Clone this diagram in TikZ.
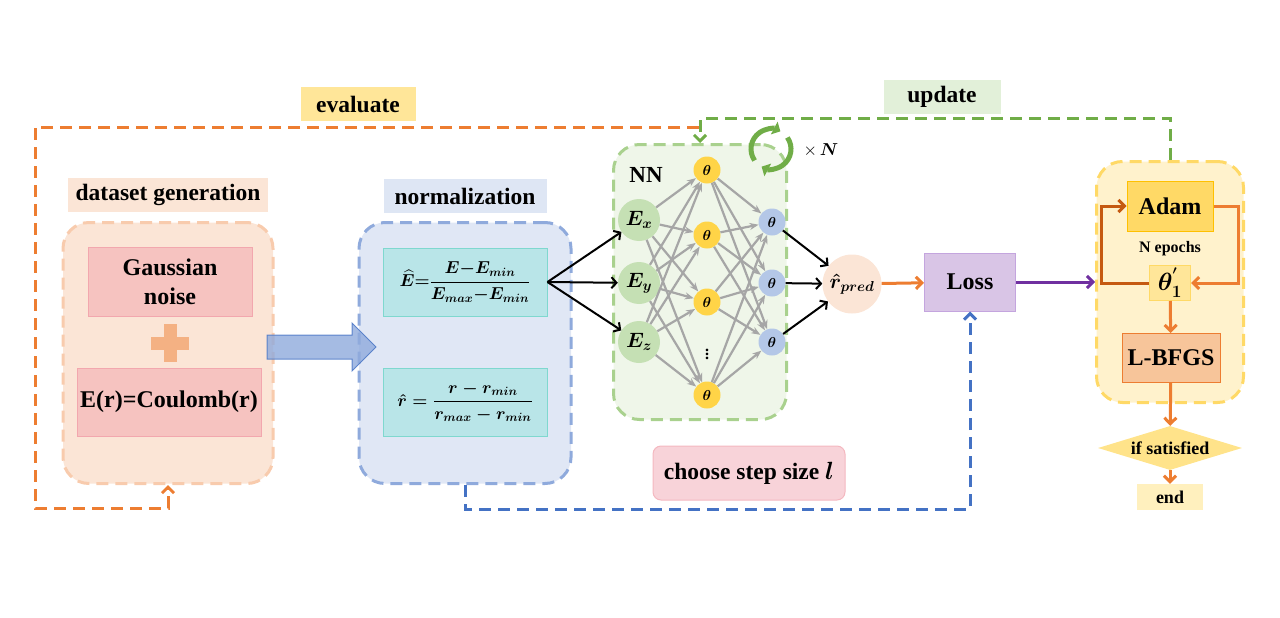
\documentclass[tikz,border=0pt]{standalone}
\usepackage{fontspec}
\setmainfont{Liberation Serif}
\usepackage{amsmath,bm}
\usetikzlibrary{arrows.meta,shapes.geometric,positioning}
\tikzset{>=stealth}

\definecolor{evalfill}{HTML}{FFE699}
\definecolor{updfill}{HTML}{E2F0D9}
\definecolor{datafill}{HTML}{FBE5D6}
\definecolor{databorder}{HTML}{F8CBAD}
\definecolor{normtag}{HTML}{DEE6F4}
\definecolor{normfill}{HTML}{E0E7F5}
\definecolor{normborder}{HTML}{8FAADC}
\definecolor{gaussfill}{HTML}{F6C3C0}
\definecolor{gaussborder}{HTML}{F2A7AE}
\definecolor{plusfill}{HTML}{F4B183}
\definecolor{formfill}{HTML}{B9E5E8}
\definecolor{formborder}{HTML}{7FD8CF}
\definecolor{nnfill}{HTML}{EFF6E9}
\definecolor{nnborder}{HTML}{A9D18E}
\definecolor{hidfill}{HTML}{FFD447}
\definecolor{infill}{HTML}{C5E0B4}
\definecolor{outfill}{HTML}{B4C7E7}
\definecolor{lossfill}{HTML}{D9C5E6}
\definecolor{lossborder}{HTML}{C4A5DE}
\definecolor{optfill}{HTML}{FFF2CC}
\definecolor{optborder}{HTML}{FFD966}
\definecolor{adamfill}{HTML}{FFD966}
\definecolor{adamborder}{HTML}{FFC000}
\definecolor{thetafill}{HTML}{FFE699}
\definecolor{lbfgsfill}{HTML}{F7C59A}
\definecolor{condfill}{HTML}{FFE38A}
\definecolor{endfill}{HTML}{FFF0BE}
\definecolor{stepfill}{HTML}{F8D3D9}
\definecolor{stepborder}{HTML}{F4B8C0}
\definecolor{lgreen}{HTML}{70AD47}
\definecolor{lorange}{HTML}{ED7D31}
\definecolor{ldarkorange}{HTML}{C55A11}
\definecolor{lblue}{HTML}{4472C4}
\definecolor{lpurple}{HTML}{7030A0}
\definecolor{arrowfill}{HTML}{8FAADC}
\definecolor{graylink}{HTML}{A6A6A6}

\tikzset{
  tag/.style={font=\bfseries\fontsize{23.5}{27}\selectfont, inner sep=0pt, minimum height=34pt},
  group/.style={rounded corners=26pt, line width=3pt, dash pattern=on 12pt off 7pt},
  box/.style={draw, line width=1pt, inner sep=0pt, align=center,
    font=\bfseries\fontsize{24}{29}\selectfont},
  neuron/.style={circle, inner sep=0pt},
  flow/.style={-{Straight Barb[length=6pt,width=12pt]}, line width=3pt},
  loop/.style={flow, dash pattern=on 12pt off 7pt, line width=3pt},
  link/.style={-{Stealth[length=9pt,width=7pt]}, draw=graylink, line width=2.2pt},
  nnarrow/.style={-{Straight Barb[length=5pt,width=11pt]}, line width=2pt}
}

\begin{document}
\begin{tikzpicture}[x=1pt,y=-1pt]
    \useasboundingbox (0,0) rectangle (1280,618);

    % labels
    \node[tag, fill=evalfill, minimum width=115pt] (evaluate) at (358,104) {evaluate};
    \node[tag, fill=updfill, minimum width=117pt] (update) at (942,97) {update};
    \node[tag, fill=datafill, minimum width=200pt] (datatag) at (168,195) {dataset generation};
    \node[tag, fill=normtag, minimum width=163pt] (normtag) at (465,196) {normalization};

    % groups
    \node[group, draw=databorder, fill=datafill, minimum width=210pt, minimum height=261pt] (data) at (168,353) {};
    \node[group, draw=normborder, fill=normfill, minimum width=212pt, minimum height=261pt] (norm) at (465,353) {};
    \node[group, draw=nnborder, fill=nnfill, minimum width=173pt, minimum height=275pt] (nn) at (700,282) {};
    \node[group, draw=optborder, fill=optfill, minimum width=147pt, minimum height=241pt] (opt) at (1170,282) {};

    % dataset generation
    \node[box, fill=gaussfill, draw=gaussborder, minimum width=164pt, minimum height=69pt] (noise) at (170,282) {Gaussian\\noise};
    \node[box, fill=gaussfill, draw=gaussborder, minimum width=184pt, minimum height=68pt] (coulomb) at (169,402) {E(r)=Coulomb(r)};
    \fill[plusfill] (151,337) rectangle (189,350);
    \fill[plusfill] (163.5,324) rectangle (176.5,362);

    % normalization
    \node[box, fill=formfill, draw=formborder, minimum width=164pt, minimum height=68pt,
      font=\fontsize{17.5}{20}\selectfont\boldmath] (ehat) at (465,282)
      {$\widehat{E}{=}\dfrac{E{-}E_{min}}{E_{max}{-}E_{min}}$};
    \node[box, fill=formfill, draw=formborder, minimum width=164pt, minimum height=68pt,
      font=\fontsize{17.5}{20}\selectfont\boldmath] (rhat) at (465,402)
      {$\hat{r}=\dfrac{r-r_{min}}{r_{max}-r_{min}}$};

    % big arrow
    \fill[arrowfill, draw=lblue, opacity=0.8, line width=1pt]
      (267,335) -- (352,335) -- (352,323) -- (376,347) -- (352,371) -- (352,359) -- (267,359) -- cycle;

    % NN
    \node[font=\bfseries\fontsize{23}{26}\selectfont] (nnlabel) at (646,175) {NN};
    \node[neuron, fill=infill, minimum size=42pt, font=\fontsize{22}{26}\selectfont\boldmath] (ex) at (639,220) {$E_x$};
    \node[neuron, fill=infill, minimum size=42pt, font=\fontsize{22}{26}\selectfont\boldmath] (ey) at (639,283) {$E_y$};
    \node[neuron, fill=infill, minimum size=42pt, font=\fontsize{22}{26}\selectfont\boldmath] (ez) at (639,342) {$E_z$};
    \foreach \i/\y in {1/170,2/235,3/302,5/395}
      \node[neuron, fill=hidfill, minimum size=27pt, font=\fontsize{15}{18}\selectfont\boldmath] (h\i) at (707,\y) {$\theta$};
    \node[font=\fontsize{16}{18}\selectfont\bfseries] (hdots) at (707,351) {$\vdots$};
    \foreach \i/\y in {1/222,2/283,3/342}
      \node[neuron, fill=outfill, minimum size=27pt, font=\fontsize{15}{18}\selectfont\boldmath] (o\i) at (772,\y) {$\theta$};
    \node[neuron, fill=datafill, minimum size=59pt, font=\fontsize{22}{26}\selectfont\boldmath] (rpred) at (852,284) {$\hat{r}_{pred}$};

    \foreach \a in {ex,ey,ez}
      \foreach \b in {h1,h2,h3,h5}
        \draw[link] (\a) -- (\b);
    \foreach \a in {h1,h2,h3,h5}
      \foreach \b in {o1,o2,o3}
        \draw[link] (\a) -- (\b);
    \foreach \n in {ex,ey,ez}
      \draw[nnarrow] (ehat.east) -- (\n);
    \foreach \n in {o1,o2,o3}
      \draw[nnarrow] (\n) -- (rpred);

    % repeat icon
    \coordinate (cyc) at (771,149);
    \draw[lgreen, line width=5pt, -{Triangle[length=7pt,width=14pt]}] (cyc) ++(215:20pt) arc[start angle=215, end angle=62, radius=20pt];
    \draw[lgreen, line width=5pt, -{Triangle[length=7pt,width=14pt]}] (cyc) ++(35:20pt) arc[start angle=35, end angle=-118, radius=20pt];
    \node[font=\fontsize{17}{19}\selectfont] (times) at (821,150) {$\times\,\boldsymbol{N}$};

    % loss and optimiser
    \node[box, fill=lossfill, draw=lossborder, minimum width=91pt, minimum height=58pt] (loss) at (970,282) {Loss};
    \node[box, fill=adamfill, draw=adamborder, minimum width=86pt, minimum height=50pt] (adam) at (1170,206) {Adam};
    \node[font=\bfseries\fontsize{16}{18}\selectfont] (epochs) at (1170,249) {N epochs};
    \node[box, fill=thetafill, draw=optborder, minimum width=41pt, minimum height=35pt,
      font=\fontsize{23}{26}\selectfont\boldmath] (theta) at (1170,283) {$\theta^{'}_{1}$};
    \node[box, fill=lbfgsfill, draw=lorange, minimum width=98pt, minimum height=49pt] (lbfgs) at (1171,358) {L-BFGS};
    \node[diamond, fill=condfill, aspect=3.3, inner sep=0pt, minimum width=144pt, minimum height=44pt,
      font=\bfseries\fontsize{18}{20}\selectfont] (cond) at (1170,448) {if satisfied};
    \node[fill=endfill, minimum width=66pt, minimum height=26pt, inner sep=0pt,
      font=\bfseries\fontsize{18}{20}\selectfont] (finish) at (1170,497) {end};
    \node[box, fill=stepfill, draw=stepborder, rounded corners=8pt, minimum width=192pt, minimum height=54pt,
      font=\bfseries\fontsize{23.5}{27}\selectfont] (stepsize) at (749,473) {choose step size $\boldsymbol{l}$};

    \draw[flow, lorange] (rpred) -- (loss);
    \draw[flow, lpurple] (loss) -- (opt.west);
    \draw[flow, ldarkorange] (theta.west) -- ++(-48,0) |- (adam.west);
    \draw[flow, lorange] (adam.east) -- ++(25,0) |- (theta.east);
    \draw[flow, lorange] (theta) -- (lbfgs);
    \draw[flow, lorange] (lbfgs) -- (cond);
    \draw[flow, lorange] (cond) -- (finish);

    % feedback loops
    \coordinate (evalstart) at (699,127);
    \coordinate (evalcorner) at (35,508);
    \draw[loop, lorange] (evalstart) -| (evalcorner) -| (data.south);
    \draw[loop, lgreen] (opt.north) -- ++(0,-41.5) -| (nn.north);
    \draw[loop, lblue] (norm.south) -- ++(0,24) -| (loss.south);
\end{tikzpicture}
\end{document}
